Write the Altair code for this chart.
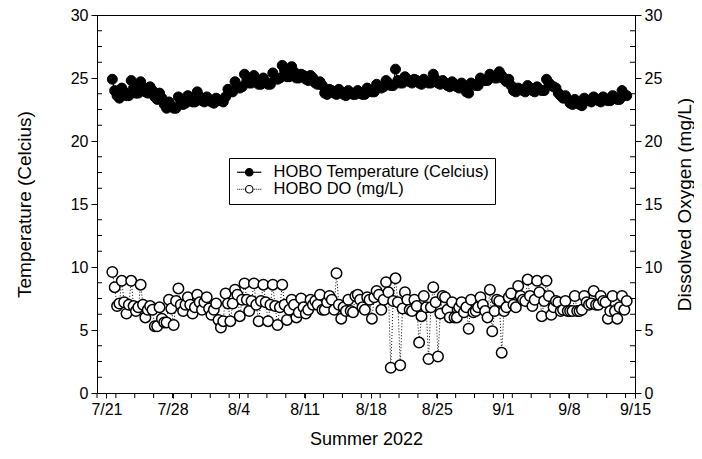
import altair as alt
import pandas as pd

T_NAME = "HOBO Temperature (Celcius)"
DO_NAME = "HOBO DO (mg/L)"

# samples every 6 h (03, 09, 15, 21 h) from 7/21 15:00 to 9/14 03:00
first_sample = "2022-07-21 15:00"

temp = [
    24.9, 24.0,                  # 7/21
    23.6, 23.4, 24.2, 23.9,      # 7/22
    23.6, 23.6, 24.8, 24.2,      # 7/23
    23.8, 23.8, 24.7, 24.3,      # 7/24
    23.9, 23.8, 24.3, 24.0,      # 7/25
    23.5, 23.3, 23.8, 23.4,      # 7/26
    22.9, 22.6, 23.1, 22.8,      # 7/27
    22.6, 22.6, 23.5, 23.2,      # 7/28
    22.9, 23.0, 23.6, 23.3,      # 7/29
    23.1, 23.1, 23.9, 23.5,      # 7/30
    23.2, 23.1, 23.5, 23.3,      # 7/31
    23.1, 23.0, 23.4, 23.2,      # 8/1
    23.2, 23.1, 23.5, 24.1,      # 8/2
    23.9, 23.9, 24.7, 24.3,      # 8/3
    24.2, 24.3, 25.3, 24.8,      # 8/4
    24.6, 24.6, 25.2, 24.9,      # 8/5
    24.5, 24.5, 25.0, 24.7,      # 8/6
    24.5, 24.5, 25.4, 25.0,      # 8/7
    24.9, 25.0, 26.0, 25.6,      # 8/8
    25.1, 25.1, 25.9, 25.5,      # 8/9
    25.0, 25.0, 25.3, 25.2,      # 8/10
    24.9, 24.8, 25.2, 25.0,      # 8/11
    24.6, 24.5, 24.7, 24.4,      # 8/12
    23.8, 23.7, 24.1, 24.0,      # 8/13
    23.8, 23.7, 24.1, 23.9,      # 8/14
    23.7, 23.6, 24.0, 23.8,      # 8/15
    23.7, 23.7, 24.0, 23.8,      # 8/16
    23.7, 23.7, 24.2, 24.0,      # 8/17
    23.9, 23.9, 24.5, 24.3,      # 8/18
    24.2, 24.3, 24.8, 24.6,      # 8/19
    24.4, 24.4, 25.7, 24.8,      # 8/20
    24.6, 24.6, 25.1, 24.9,      # 8/21
    24.7, 24.6, 24.9, 24.8,      # 8/22
    24.6, 24.5, 24.9, 24.7,      # 8/23
    24.6, 24.6, 25.3, 24.9,      # 8/24
    24.6, 24.5, 24.8, 24.6,      # 8/25
    24.4, 24.3, 24.7, 24.5,      # 8/26
    24.3, 24.2, 24.6, 24.4,      # 8/27
    23.9, 23.8, 24.6, 24.5,      # 8/28
    24.4, 24.4, 25.0, 24.8,      # 8/29
    24.8, 24.8, 25.3, 25.1,      # 8/30
    25.0, 25.0, 25.5, 25.2,      # 8/31
    24.9, 24.7, 24.9, 24.4,      # 9/1
    24.0, 23.9, 24.2, 24.1,      # 9/2
    24.0, 23.9, 24.4, 24.2,      # 9/3
    24.0, 23.9, 24.3, 24.1,      # 9/4
    24.0, 24.0, 24.9, 24.6,      # 9/5
    24.4, 24.3, 24.2, 23.8,      # 9/6
    23.6, 23.4, 23.6, 23.3,      # 9/7
    23.0, 22.9, 23.3, 23.1,      # 9/8
    22.9, 22.8, 23.4, 23.2,      # 9/9
    23.2, 23.1, 23.5, 23.3,      # 9/10
    23.2, 23.1, 23.5, 23.3,      # 9/11
    23.2, 23.2, 23.6, 23.4,      # 9/12
    23.3, 23.3, 24.0, 23.7,      # 9/13
    23.6,                        # 9/14
]

dissolved_oxygen = [
    9.6, 8.4,                    # 7/21
    6.9, 7.1, 8.9, 7.2,          # 7/22
    6.3, 7.0, 8.9, 6.9,          # 7/23
    6.5, 6.8, 8.6, 7.0,          # 7/24
    6.0, 6.6, 6.9, 6.6,          # 7/25
    5.3, 5.3, 6.8, 5.9,          # 7/26
    5.6, 5.6, 7.4, 6.7,          # 7/27
    5.4, 7.3, 8.3, 7.0,          # 7/28
    6.5, 7.0, 7.6, 7.0,          # 7/29
    6.3, 6.8, 7.8, 7.2,          # 7/30
    6.6, 7.2, 7.6, 6.7,          # 7/31
    6.2, 6.6, 7.1, 5.8,          # 8/1
    5.2, 5.7, 7.9, 7.1,          # 8/2
    5.7, 7.1, 8.2, 7.8,          # 8/3
    6.1, 7.4, 8.7, 7.4,          # 8/4
    6.5, 7.3, 8.7, 7.0,          # 8/5
    5.7, 7.3, 8.6, 7.2,          # 8/6
    5.7, 7.0, 8.6, 6.9,          # 8/7
    5.4, 6.8, 8.6, 7.0,          # 8/8
    5.8, 6.6, 7.4, 7.0,          # 8/9
    6.0, 6.4, 7.5, 6.8,          # 8/10
    6.3, 6.6, 7.4, 7.0,          # 8/11
    7.3, 7.0, 7.8, 6.6,          # 8/12
    6.6, 7.2, 7.7, 7.4,          # 8/13
    6.6, 9.5, 7.0, 5.9,          # 8/14
    6.8, 6.5, 7.4, 6.5,          # 8/15
    6.4, 7.7, 7.8, 7.4,          # 8/16
    6.8, 6.6, 7.6, 7.4,          # 8/17
    5.9, 7.6, 8.1, 7.8,          # 8/18
    6.6, 7.4, 8.8, 8.0,          # 8/19
    2.0, 7.3, 9.1, 7.2,          # 8/20
    2.2, 6.7, 8.0, 7.4,          # 8/21
    6.6, 6.5, 7.4, 6.9,          # 8/22
    4.0, 6.1, 7.7, 6.8,          # 8/23
    2.7, 6.8, 8.4, 7.2,          # 8/24
    2.9, 6.3, 7.7, 7.6,          # 8/25
    6.6, 6.0, 7.2, 6.0,          # 8/26
    6.0, 6.8, 7.2, 6.4,          # 8/27
    6.8, 5.1, 7.4, 6.4,          # 8/28
    6.5, 6.8, 7.6, 7.0,          # 8/29
    6.5, 6.0, 8.2, 4.9,          # 8/30
    6.5, 7.4, 7.3, 3.2,          # 8/31
    6.5, 6.8, 7.6, 7.9,          # 9/1
    7.0, 6.8, 8.5, 7.7,          # 9/2
    7.4, 7.3, 9.0, 7.7,          # 9/3
    6.9, 7.4, 8.9, 8.0,          # 9/4
    6.1, 7.3, 8.9, 7.7,          # 9/5
    6.2, 6.8, 7.3, 7.2,          # 9/6
    6.5, 6.6, 7.3, 6.5,          # 9/7
    6.5, 6.5, 7.7, 6.5,          # 9/8
    6.5, 6.6, 7.7, 7.2,          # 9/9
    7.0, 7.1, 8.1, 7.0,          # 9/10
    7.0, 7.7, 7.3, 7.2,          # 9/11
    5.9, 6.5, 7.7, 6.5,          # 9/12
    5.9, 6.8, 7.7, 6.6,          # 9/13
    7.3,                         # 9/14
]

major_dates = [(7, 21), (7, 28), (8, 4), (8, 11), (8, 18), (8, 25), (9, 1), (9, 8), (9, 15)]
minor_dates = ["2022-07-20", "2022-07-22", "2022-07-24", "2022-07-26", "2022-07-28", "2022-07-30",
               "2022-08-01", "2022-08-03", "2022-08-05", "2022-08-07", "2022-08-09", "2022-08-11",
               "2022-08-13", "2022-08-15", "2022-08-17", "2022-08-19", "2022-08-21", "2022-08-23",
               "2022-08-25", "2022-08-27", "2022-08-29", "2022-08-31", "2022-09-02", "2022-09-04",
               "2022-09-06", "2022-09-08", "2022-09-10", "2022-09-12", "2022-09-14"]
y_major = [0, 5, 10, 15, 20, 25, 30]
y_minor = [1.25, 2.5, 3.75, 6.25, 7.5, 8.75, 11.25, 12.5, 13.75, 16.25, 17.5, 18.75,
           21.25, 22.5, 23.75, 26.25, 27.5, 28.75]

W, H = 538, 378
FONT = "Liberation Sans"

times = pd.date_range(first_sample, periods=len(temp), freq="6h")
df = pd.DataFrame({"time": times.strftime("%Y-%m-%dT%H:%M:%S"), "temp": temp,
                   "do": dissolved_oxygen})
df["tseries"] = T_NAME
df["dseries"] = DO_NAME
minor_x_df = pd.DataFrame({"time": [s + "T00:00:00" for s in minor_dates]})
minor_t_df = pd.DataFrame({"temp": y_minor})
minor_d_df = pd.DataFrame({"do": y_minor})

xscale = alt.Scale(domain=[alt.DateTime(year=2022, month=7, date=20),
                           alt.DateTime(year=2022, month=9, date=15)])
yscale = alt.Scale(domain=[0, 30], nice=False, zero=False)

x_axis = alt.Axis(values=[alt.DateTime(year=2022, month=m, date=d) for m, d in major_dates],
                  format="%-m/%-d", title="Summer 2022", grid=False, tickSize=5,
                  labelFontSize=16, titleFontSize=18, labelFont=FONT, titleFont=FONT,
                  labelColor="black", titleColor="black", titleFontWeight="normal",
                  domainColor="black", tickColor="black", labelPadding=3, titlePadding=13,
                  labelFlush=False)
x = alt.X("time:T", scale=xscale, axis=x_axis)


def y_axis(title, orient, pad, **kw):
    return alt.Axis(values=y_major, title=title, orient=orient, grid=False, tickSize=6,
                    labelFontSize=16, titleFontSize=19, labelFont=FONT, titleFont=FONT,
                    labelColor="black", titleColor="black", titleFontWeight="normal",
                    domainColor="black", tickColor="black", labelPadding=3,
                    titlePadding=pad, labelFlush=False, **kw)


left_axis = y_axis("Temperature (Celcius)", "left", 36)
right_axis = y_axis("Dissolved Oxygen (mg/L)", "right", 14, titleAngle=270,
                    titleBaseline="top")
yt = alt.Y("temp:Q", scale=yscale, axis=left_axis)
yd = alt.Y("do:Q", scale=yscale, axis=right_axis)

fill_scale = alt.Scale(domain=[T_NAME, DO_NAME], range=["black", "white"])

DOTTED_PATH = ("M-2.4,0L-2.2,0M-2.0,0L-1.8,0M-1.6,0L-1.4,0M-1.2,0L-1.0,0"
               "M1.0,0L1.2,0M1.4,0L1.6,0M1.8,0L2.0,0M2.2,0L2.4,0"
               "M0.75,0A0.75,0.75 0 1,1 -0.75,0A0.75,0.75 0 1,1 0.75,0Z")
SOLID_PATH = "M-2.4,0L-0.75,0M0.75,0L2.4,0"

LEG_X, LEG_Y = 132, 143
common_leg = dict(title=None, orient="none", legendX=LEG_X, legendY=LEG_Y, symbolSize=100,
                  symbolOffset=6, labelOffset=16, labelFontSize=16.5, labelFont=FONT,
                  labelColor="black", labelLimit=0, padding=6, rowPadding=-1,
                  symbolStrokeColor="black", symbolStrokeWidth=1.2)
legend_main = alt.Legend(symbolType=DOTTED_PATH, strokeColor="black", **common_leg)
legend_solid = alt.Legend(symbolType=SOLID_PATH, labelOpacity=0, **common_leg)

base = alt.Chart(df)

t_line = base.mark_line(strokeWidth=1).encode(
    x=x, y=yt,
    stroke=alt.Stroke("tseries:N", scale=alt.Scale(domain=[T_NAME], range=["black"]),
                      legend=legend_solid))
t_pts = base.mark_point(filled=True, size=100, shape="circle", stroke="black",
                        strokeWidth=1, opacity=1).encode(
    x=x, y=yt, fill=alt.Fill("tseries:N", scale=fill_scale, legend=legend_main))
t_minor = alt.Chart(minor_t_df).mark_rule(color="black", strokeWidth=1).encode(
    y=yt, x=alt.value(0), x2=alt.value(5))
x_minor = alt.Chart(minor_x_df).mark_rule(color="black", strokeWidth=1).encode(
    x=x, y=alt.value(H), y2=alt.value(H + 5))

d_line = base.mark_line(color="black", strokeWidth=1, strokeDash=[1, 2]).encode(x=x, y=yd)
d_pts = base.mark_point(filled=True, size=110, shape="circle", stroke="black",
                        strokeWidth=1.5, opacity=1).encode(
    x=x, y=yd, fill=alt.Fill("dseries:N", scale=fill_scale, legend=legend_main))
d_minor = alt.Chart(minor_d_df).mark_rule(color="black", strokeWidth=1).encode(
    y=yd, x=alt.value(W - 5), x2=alt.value(W))

t_group = alt.layer(t_line, t_pts, t_minor, x_minor)
d_group = alt.layer(d_line, d_pts, d_minor)

chart = alt.layer(t_group, d_group).resolve_scale(y="independent").properties(
    width=W, height=H,
    autosize=alt.AutoSizeParams(type="none"),
    padding={"left": 89, "top": 7, "right": 59, "bottom": 58},
    background="white",
).configure_view(stroke="black", strokeWidth=1)

chart.save("out.html", embed_options={"renderer": "svg", "actions": False})
